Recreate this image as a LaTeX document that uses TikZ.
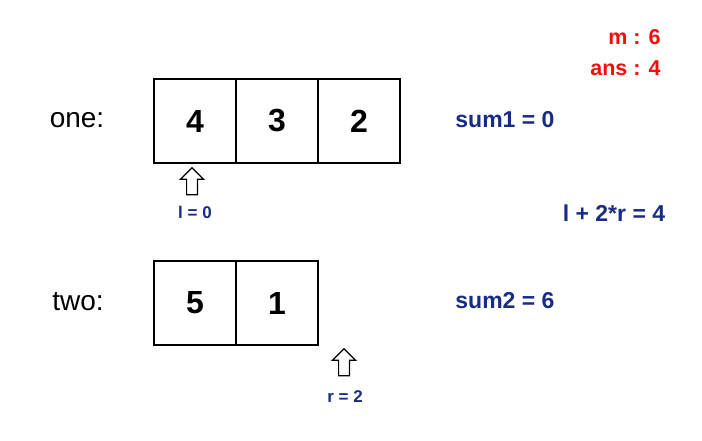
\documentclass[tikz,border=0pt]{standalone}
\usepackage{fontspec}
\setmainfont{Liberation Sans}
\usetikzlibrary{positioning,shapes.arrows}
\definecolor{navy}{RGB}{22,44,134}
\definecolor{hot}{RGB}{250,10,10}

\tikzset{
  cell/.style={draw, line width=1.5pt, minimum width=82pt, minimum height=84pt,
               inner sep=0pt, font=\fontsize{32}{32}\selectfont\bfseries},
  ptr/.style={draw, line width=1.2pt, single arrow, shape border rotate=90,
              minimum height=27pt, inner sep=4.8pt, single arrow head extend=6pt},
  tag/.style={text=navy, font=\fontsize{17}{17}\selectfont\bfseries},
  info/.style={text=navy, font=\fontsize{23}{23}\selectfont\bfseries},
  memo/.style={text=hot, font=\fontsize{21.5}{21.5}\selectfont\bfseries, anchor=east},
  rowname/.style={font=\fontsize{28}{28}\selectfont}
}

\begin{document}
\begin{tikzpicture}[x=1pt,y=-1pt]
  \useasboundingbox (0,0) rectangle (702,441);
  % first row
  \node[rowname] (one) at (77,120) {one:};
  \node[cell] (a1) at (195,121) {4};
  \node[cell, right=-1.5pt of a1] (a2) {3};
  \node[cell, right=-1.5pt of a2] (a3) {2};
  % second row
  \node[rowname] (two) at (78,302) {two:};
  \node[cell] (b1) at (195,303) {5};
  \node[cell, right=-1.5pt of b1] (b2) {1};
  % pointers
  \node[ptr] (pl) at (192,184) {};
  \node[tag] (ll) at (195,212) {l = 0};
  \node[ptr] (pr) at (344,365) {};
  \node[tag] (lr) at (345,397) {r = 2};
  % sums
  \node[info] (s1) at (505,120) {sum1 = 0};
  \node[info] (s2) at (505,301) {sum2 = 6};
  \node[info] (lr2) at (614,213) {l + 2*r = 4};
  \node[memo] (m) at (664,37) {m : 6};
  \node[memo] (ans) at (664,68) {ans : 4};
\end{tikzpicture}
\end{document}
